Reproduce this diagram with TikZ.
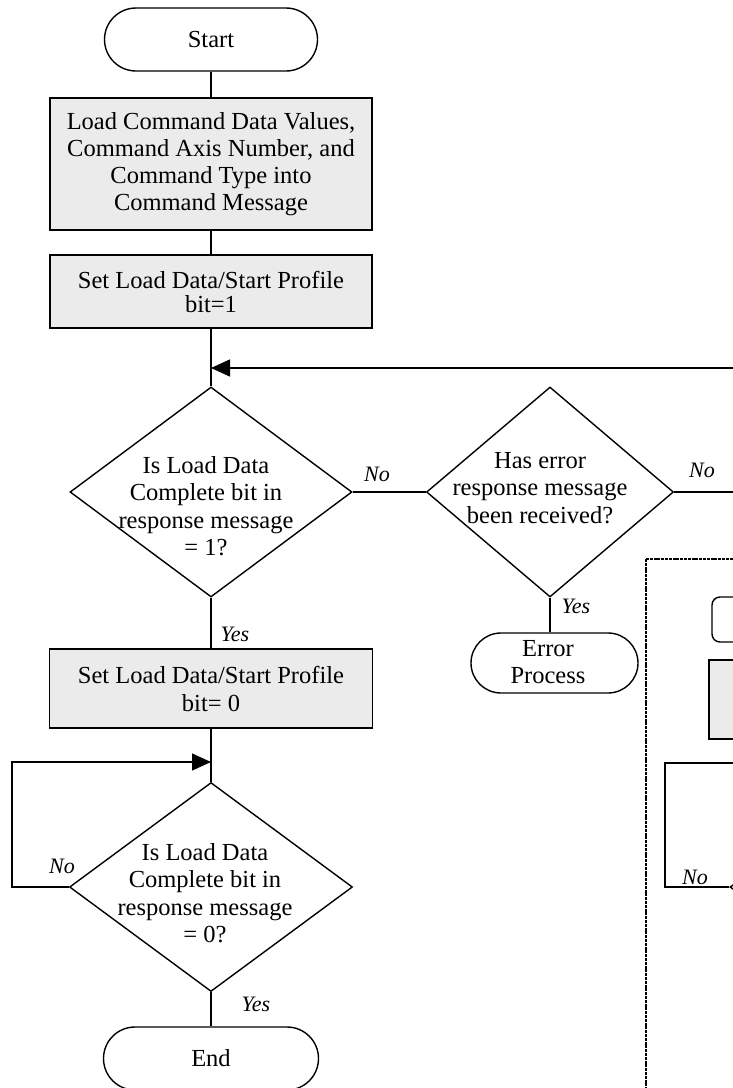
\documentclass[tikz,border=0pt]{standalone}
\usepackage{fontspec}
\setmainfont{Liberation Serif}
\usetikzlibrary{shapes.geometric,shapes.misc,arrows.meta,calc}
\definecolor{boxgray}{RGB}{235,235,235}
\begin{document}
\begin{tikzpicture}[x=1pt,y=-1pt,
  every node/.style={font=\fontsize{24.5}{27}\selectfont},
  base/.style={draw,line width=1.4pt,inner sep=0pt},
  terminal/.style={base,rounded rectangle},
  procbox/.style={base,rectangle,fill=boxgray,align=center},
  decision/.style={base,diamond},
  lbl/.style={font=\fontsize{22}{24}\selectfont\itshape,inner sep=0pt},
  txt/.style={align=center,inner sep=0pt,font=\fontsize{24.5}{27.5}\selectfont},
  conn/.style={line width=1.4pt},
  arr/.style={conn,-{Triangle[length=19pt,width=17pt]}},
  dashbox/.style={line width=1.3pt,dash pattern=on 3pt off 0.8pt},
]
\fill[white] (0,0) rectangle (733,1088);
\useasboundingbox (0,0) rectangle (733,1088);

% main column
\node[terminal,minimum width=213pt,minimum height=63pt] (start) at (211,39.5) {Start};
\node[procbox,minimum width=322pt,minimum height=132pt] (box1) at (211,164)
  {Load Command Data Values,\\Command Axis Number, and\\Command Type into\\Command Message};
\node[procbox,minimum width=322pt,minimum height=73pt,font=\fontsize{24.5}{24}\selectfont] (box2) at (211,291.5)
  {Set Load Data/Start Profile\\bit=1};
\node[decision,minimum width=282pt,minimum height=210pt] (d1) at (211,492) {};
\node[txt] (d1t) at (206,506) {Is Load Data\\Complete bit in\\response message\\= 1?};
\node[decision,minimum width=247pt,minimum height=210pt] (d2) at (550,492) {};
\node[txt] (d2t) at (540,488) {Has error\\response message\\been received?};
\node[terminal,minimum width=167pt,minimum height=60pt] (err) at (554.5,663) {};
\node[txt] (errt) at (548,662) {Error\\Process};
\node[procbox,minimum width=323pt,minimum height=79pt,font=\fontsize{24.5}{28}\selectfont] (box3) at (211,688.5)
  {Set Load Data/Start Profile\\bit= 0};
\node[decision,minimum width=283pt,minimum height=209pt] (d3) at (211,887) {};
\node[txt] (d3t) at (205,893) {Is Load Data\\Complete bit in\\response message\\= 0?};
\node[terminal,minimum width=215pt,minimum height=63pt] (endn) at (211,1058.5) {End};

% right (partly visible) part
\draw[dashbox] (646,559) rectangle (800,1100);
\node[base,rounded corners=8pt,minimum width=140pt,minimum height=45pt] (rs) at (782,619.5) {};
\node[procbox,minimum width=140pt,minimum height=79pt] (rb) at (779,699.5) {};
\node[decision,minimum width=284pt,minimum height=210pt] (d4) at (872,887) {};

% coordinates
\coordinate (j1) at (211,368);
\coordinate (rin) at (745,368);
\coordinate (rout1) at (745,492);
\coordinate (lc1) at (12,887);
\coordinate (lc2) at (12,762);
\coordinate (j2) at (211,762);
\coordinate (rc1) at (665,887);
\coordinate (rc2) at (665,763);
\coordinate (rout2) at (745,763);

% connectors
\draw[conn] (start.south) -- (box1.north);
\draw[conn] (box1.south) -- (box2.north);
\draw[conn] (box2.south) -- (d1.north);
\draw[arr] (rin) -- (j1);
\draw[conn] (d1.east) -- (d2.west);
\draw[conn] (d2.east) -- (rout1);
\draw[conn] (d2.south) -- (d2.south |- err.north);
\draw[conn] (d1.south) -- (box3.north);
\draw[conn] (box3.south) -- (d3.north);
\draw[arr] (d3.west) -- (lc1) -- (lc2) -- (j2);
\draw[conn] (d3.south) -- (endn.north);
\draw[conn] (d4.west) -- (rc1) -- (rc2) -- (rout2);

% labels
\node[lbl] (no1) at (377,474) {No};
\node[lbl] (no2) at (702,470) {No};
\node[lbl] (yes1) at (576,606) {Yes};
\node[lbl] (yes2) at (235,634) {Yes};
\node[lbl] (no3) at (62,866) {No};
\node[lbl] (yes3) at (256,1004) {Yes};
\node[lbl] (no4) at (695,877) {No};
\end{tikzpicture}
\end{document}
